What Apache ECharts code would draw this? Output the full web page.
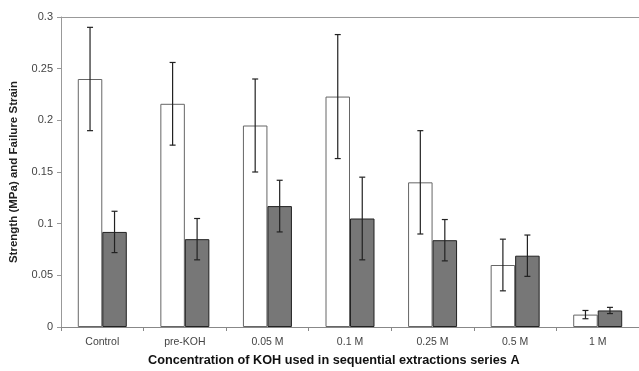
<!DOCTYPE html>
<html>
<head>
<meta charset="utf-8">
<script src="https://cdn.jsdelivr.net/npm/echarts@6/dist/echarts.min.js"></script>
<style>
  html, body { margin: 0; padding: 0; background: #fff; }
  #chart { width: 639px; height: 371px; }
</style>
</head>
<body>
<div id="chart"></div>
<script>
// KOH extraction steps
const categories = ['Control', 'pre-KOH', '0.05 M', '0.1 M', '0.25 M', '0.5 M', '1 M'];
// Strength (MPa), white bars, with standard deviation
const strength    = [0.240, 0.216, 0.195, 0.223, 0.140, 0.060, 0.012];
const strengthErr = [0.050, 0.040, 0.045, 0.060, 0.050, 0.025, 0.004];
// Failure strain, grey bars, with standard deviation
const strain      = [0.092, 0.085, 0.117, 0.105, 0.084, 0.069, 0.016];
const strainErr   = [0.020, 0.020, 0.025, 0.040, 0.020, 0.020, 0.003];
const yTicks = [0, 0.05, 0.1, 0.15, 0.2, 0.25, 0.3];

const BAR_W = 24.5;
const FONT = '"Liberation Sans", Arial, sans-serif';

function errRows(vals, errs) {
  return vals.map((v, i) => [i, v - errs[i], v + errs[i]]);
}

function errRenderer(shift) {
  return function (params, api) {
    const i = api.value(0);
    const lo = api.coord([i, api.value(1)]);
    const hi = api.coord([i, api.value(2)]);
    const x = lo[0] + shift;
    const cap = 3;
    const style = { stroke: '#222', lineWidth: 1.2 };
    return {
      type: 'group',
      children: [
        { type: 'line', shape: { x1: x, y1: hi[1], x2: x, y2: lo[1] }, style },
        { type: 'line', shape: { x1: x - cap, y1: hi[1], x2: x + cap, y2: hi[1] }, style },
        { type: 'line', shape: { x1: x - cap, y1: lo[1], x2: x + cap, y2: lo[1] }, style }
      ]
    };
  };
}

const chart = echarts.init(document.getElementById('chart'), null, { renderer: 'canvas' });
chart.setOption({
  animation: false,
  backgroundColor: '#fff',
  grid: { left: 58, top: 17, bottom: 44, width: 590, containLabel: false },
  xAxis: [{
    type: 'category',
    data: categories,
    axisLine: { lineStyle: { color: '#888', width: 1 } },
    axisTick: { show: true, length: 4, lineStyle: { color: '#888' } },
    axisLabel: { color: '#444', fontSize: 10.5, fontFamily: FONT, margin: 10 },
    splitLine: { show: false }
  }, {
    type: 'category',
    position: 'top',
    data: categories,
    axisLine: { lineStyle: { color: '#999', width: 1 } },
    axisTick: { show: false },
    axisLabel: { show: false }
  }],
  yAxis: {
    type: 'value',
    min: yTicks[0], max: yTicks[yTicks.length - 1], interval: 0.05,
    name: 'Strength (MPa) and Failure Strain',
    nameLocation: 'middle',
    nameGap: 41,
    nameTextStyle: { color: '#222', fontSize: 11.5, fontWeight: 'bold', fontFamily: FONT },
    axisLine: { show: true, lineStyle: { color: '#999' } },
    axisTick: { show: true, length: 4, lineStyle: { color: '#999' } },
    axisLabel: {
      color: '#444', fontSize: 11, fontFamily: FONT, margin: 8,
      formatter: v => String(+v.toFixed(2))
    },
    splitLine: { show: false }
  },
  graphic: [{
    type: 'text',
    left: 148, top: 354,
    style: {
      text: 'Concentration of KOH used in sequential extractions series A',
      fill: '#111', font: 'bold 12.7px ' + FONT
    }
  }],
  series: [
    {
      type: 'bar', data: strength, barWidth: BAR_W, barGap: '0%',
      itemStyle: { color: '#fff', borderColor: '#666', borderWidth: 1 }
    },
    {
      type: 'bar', data: strain, barWidth: BAR_W, barGap: '0%',
      itemStyle: { color: '#777', borderColor: '#222', borderWidth: 1 }
    },
    {
      type: 'custom', renderItem: errRenderer(-BAR_W / 2),
      data: errRows(strength, strengthErr), encode: { x: 0, y: [1, 2] }, z: 5
    },
    {
      type: 'custom', renderItem: errRenderer(BAR_W / 2),
      data: errRows(strain, strainErr), encode: { x: 0, y: [1, 2] }, z: 5
    }
  ]
});
</script>
</body>
</html>
